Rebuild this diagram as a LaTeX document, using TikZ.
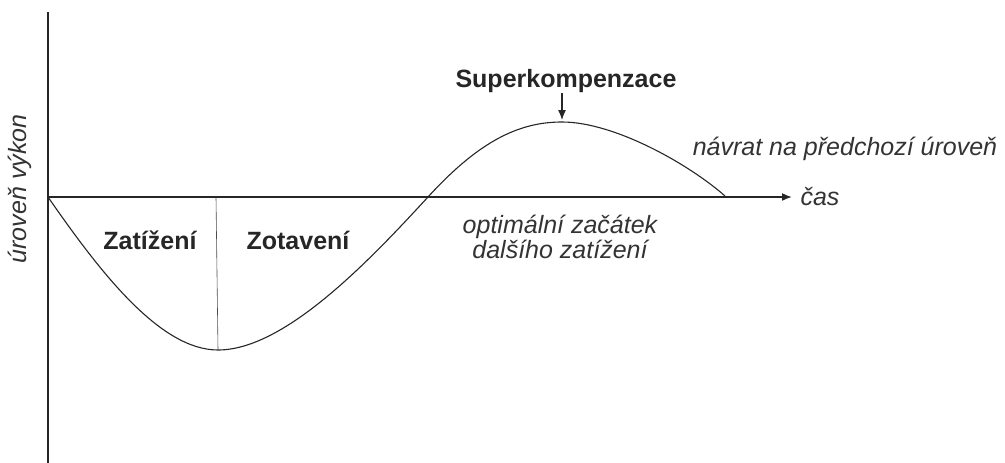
\documentclass[tikz,border=0pt]{standalone}
\usepackage{fontspec}
\setmainfont{Liberation Sans}
\usetikzlibrary{arrows.meta,positioning}

\begin{document}
\begin{tikzpicture}[
  x=1pt, y=-1pt,
  font=\fontsize{25}{22}\selectfont,
  >=Latex,
  axis/.style={line width=1.6pt, black!85},
  curve/.style={line width=1.1pt, black!85},
  divider/.style={line width=0.6pt, black!70},
  phase/.style={font=\fontsize{25}{22}\selectfont\bfseries, text=black!85},
  note/.style={font=\fontsize{25}{22}\selectfont\itshape, text=black!80, align=center}
]
  \useasboundingbox (0,0) rectangle (1005,463);

  % axes
  \coordinate (o) at (48,197);
  \coordinate (ytop) at (48,12);
  \coordinate (ybot) at (48,463);
  \coordinate (xend) at (792,197);
  \draw[axis] (ytop) -- (ybot);
  \draw[axis, -{Latex[length=10pt,width=8pt]}] (o) -- (xend);

  % curve points
  \coordinate (low) at (218,350);
  \coordinate (cross) at (428,197);
  \coordinate (peak) at (562,122);
  \coordinate (back) at (725,196);
  \coordinate (split) at (216,197);

  \draw[curve] (o) .. controls (100,272) and (160,350) .. (low)
    .. controls (285,350) and (370,260) .. (cross)
    .. controls (480,140) and (520,122) .. (peak)
    .. controls (615,122) and (690,165) .. (back);
  \draw[divider] (split) -- (low);

  % labels
  \node[phase] (load) at (150,240) {Zatížení};
  \node[phase] (rest) at (298,240) {Zotavení};
  \node[phase, inner sep=1pt, anchor=base] (superk) at (566,87) {Superkompenzace};
  \draw[line width=1.2pt, black!85, -{Latex[length=10pt,width=8pt]}, shorten >=2pt]
    (superk.south -| peak) -- (peak);

  \node[note, rotate=90] (level) at (20,189) {úroveň výkon};
  \node[note, right=5pt of xend] (time) {čas};
  \node[note] (return) at (845,149) {návrat na předchozí úroveň};
  \node[note] (next) at (560,237) {optimální začátek\\dalšího zatížení};
\end{tikzpicture}
\end{document}
